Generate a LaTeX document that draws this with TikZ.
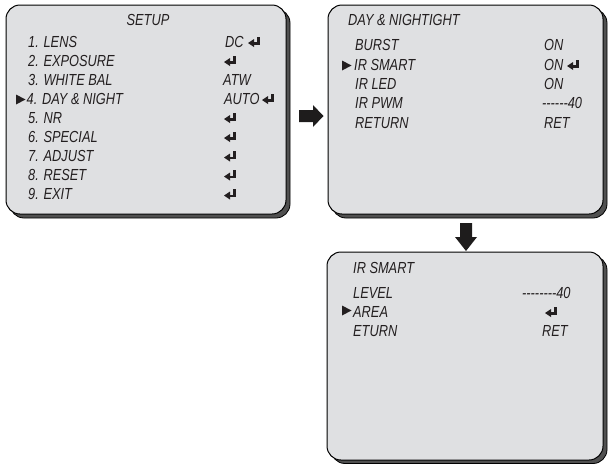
\documentclass[tikz,border=0pt]{standalone}
\usepackage{fontspec}
\setmainfont{Liberation Sans}[FakeStretch=0.8, Ligatures=TeXOff]
\definecolor{panelfill}{RGB}{223,224,226}
\definecolor{shadowgray}{RGB}{80,80,80}
\definecolor{txt}{RGB}{35,31,32}
\definecolor{arrowfill}{RGB}{30,28,28}
\begin{document}
\begin{tikzpicture}[x=1pt,y=-1pt,
  lbl/.style={anchor=base west, inner sep=0pt, font=\fontsize{16}{19}\selectfont\itshape, text=txt},
  ttl/.style={anchor=base, inner sep=0pt, font=\fontsize{16}{19}\selectfont\itshape, text=txt},
  panel/.style={draw=black, line width=1pt, fill=panelfill, rounded corners=14pt},
  panelshadow/.style={draw=black, line width=0.8pt, fill=shadowgray, rounded corners=14pt},
  blockarrow/.style={fill=arrowfill, draw=none},
  enter/.pic={
    \fill[txt] (0,-4) -- (6,-8) -- (6,0) -- cycle;
    \fill[txt] (5,-5) rectangle (11.5,-2.5);
    \fill[txt] (8.6,-10.5) rectangle (11.5,-2.5);
  },
  pointer/.pic={
    \fill[txt] (0,-9.5) -- (9.5,-4.5) -- (0,0.5) -- cycle;
  }]
\useasboundingbox (0,0) rectangle (608,464);

% ---------- panels ----------
\draw[panelshadow] (10,9) rectangle (290,218);
\draw[panel] (6,5) rectangle (286,214);
\draw[panelshadow] (332,9) rectangle (607,218);
\draw[panel] (328,5) rectangle (603,214);
\draw[panelshadow] (331,256) rectangle (607,463.5);
\draw[panel] (327,252) rectangle (603,460);

% ---------- block arrows ----------
\fill[blockarrow] (299,110) -- (313,110) -- (313,105) -- (323.5,116) -- (313,127) -- (313,122) -- (299,122) -- cycle;
\fill[blockarrow] (460,223) -- (472,223) -- (472,237) -- (477,237) -- (466,251) -- (455,237) -- (460,237) -- cycle;

% ---------- SETUP panel ----------
\node[ttl] (setup) at (148,25) {SETUP};
\node[lbl] (s1) at (28,47) {1. LENS};
\node[lbl] (s2) at (28,66) {2. EXPOSURE};
\node[lbl] (s3) at (28,85) {3. WHITE BAL};
\node[lbl] (s4) at (26.5,104) {4. DAY \& NIGHT};
\node[lbl] (s5) at (28,123) {5. NR};
\node[lbl] (s6) at (28,142) {6. SPECIAL};
\node[lbl] (s7) at (28,161.5) {7. ADJUST};
\node[lbl] (s8) at (28,180.5) {8. RESET};
\node[lbl] (s9) at (28,199.5) {9. EXIT};
\node[lbl] (v1) at (225,47) {DC};
\node[lbl] (v3) at (223,85) {ATW};
\node[lbl] (v4) at (224,104) {AUTO};
\pic at (16,104) {pointer};
\pic at (248,47) {enter};
\pic at (224,66) {enter};
\pic at (262,104) {enter};
\pic at (224,123) {enter};
\pic at (224,142) {enter};
\pic at (224,161.5) {enter};
\pic at (224,180.5) {enter};
\pic at (224,199.5) {enter};

% ---------- DAY & NIGHT panel ----------
\node[lbl] (dtitle) at (348,25) {DAY \& NIGHTIGHT};
\node[lbl] (d1) at (355,50) {BURST};
\node[lbl] (d2) at (354,70) {IR SMART};
\node[lbl] (d3) at (355,89) {IR LED};
\node[lbl] (d4) at (355,108) {IR PWM};
\node[lbl] (d5) at (355,128) {RETURN};
\node[lbl] (dv1) at (544,50) {ON};
\node[lbl] (dv2) at (544,70) {ON};
\node[lbl] (dv3) at (544,89) {ON};
\node[lbl] (dv4) at (542,108) {------40};
\node[lbl] (dv5) at (544,128) {RET};
\pic at (342,70) {pointer};
\pic at (567,70) {enter};

% ---------- IR SMART panel ----------
\node[lbl] (ititle) at (353,273) {IR SMART};
\node[lbl] (i1) at (353,298) {LEVEL};
\node[lbl] (i2) at (353,317) {AREA};
\node[lbl] (i3) at (353,336) {ETURN};
\node[lbl] (iv1) at (522,298) {--------40};
\node[lbl] (iv3) at (542,336) {RET};
\pic at (342,315) {pointer};
\pic at (545,317) {enter};
\end{tikzpicture}
\end{document}
